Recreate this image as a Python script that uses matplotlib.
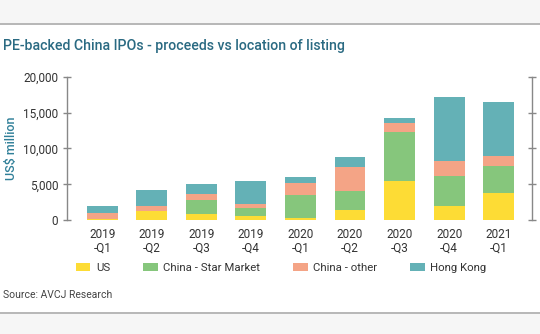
import numpy as np
import matplotlib.pyplot as plt
from matplotlib.lines import Line2D
from matplotlib.patches import Rectangle

quarters = ['2019\n-Q1', '2019\n-Q2', '2019\n-Q3', '2019\n-Q4', '2020\n-Q1',
            '2020\n-Q2', '2020\n-Q3', '2020\n-Q4', '2021\n-Q1']
us = [190, 1250, 880, 600, 330, 1440, 5400, 1950, 3720]
star = [0, 0, 1860, 1120, 3200, 2610, 6830, 4140, 3810]
other = [790, 700, 890, 510, 1590, 3300, 1260, 2100, 1400]
hk = [970, 2190, 1390, 3210, 830, 1490, 790, 8930, 7540]
series = ['US', 'China - Star Market', 'China - other', 'Hong Kong']
colors = ['#fddc35', '#86c67c', '#f4a486', '#64b1b6']

plt.rcParams['font.family'] = ['Roboto', 'DejaVu Sans']

fig = plt.figure(figsize=(5.4, 3.34), dpi=100)
ax = fig.add_axes([0.1235, 0.341, 0.8622, 0.429])

x = np.arange(len(quarters))
bottom = np.zeros(len(quarters))
handles = []
for vals, c, name in zip([us, star, other, hk], colors, series):
    b = ax.bar(x, vals, 0.625, bottom=bottom, color=c, label=name, linewidth=0)
    handles.append(b)
    bottom += np.array(vals)

ax.set_xlim(-0.72, 8.68)
ax.set_ylim(0, 20000)
ax.set_yticks([0, 5000, 10000, 15000, 20000])
ax.set_yticklabels(['0', '5,000', '10,000', '15,000', '20,000'])
ax.set_xticks(x)
ax.set_xticklabels(quarters, linespacing=1.0)
ax.tick_params(axis='x', length=0, pad=6, labelsize=8.5, colors='#333333')
ax.tick_params(axis='y', direction='inout', length=6, width=1, color='#888888',
               labelsize=8.5, labelcolor='#333333', pad=3, right=True)
for s in ['top', 'bottom']:
    ax.spines[s].set_visible(False)
for s in ['left', 'right']:
    ax.spines[s].set_color('#888888')
    ax.spines[s].set_linewidth(1)
ax.set_ylabel('US$ million', color='#2f7f98', fontsize=9, fontweight='medium')
ax.yaxis.set_label_coords(-0.105, 0.5)

fig.legend(handles=handles, labels=series, loc='center left', bbox_to_anchor=(0.141, 0.197),
           ncol=4, frameon=False, fontsize=8.2, handlelength=1.25, handleheight=0.75,
           columnspacing=2.9, handletextpad=0.5, labelcolor='#333333',
           borderpad=0, borderaxespad=0)

fig.text(0.006, 0.862, 'PE-backed China IPOs - proceeds vs location of listing',
         fontsize=10.2, fontweight='medium', color='#2a6a82', va='center')
fig.text(0.006, 0.117, 'Source: AVCJ Research', fontsize=7.5, color='#444444', va='center')

# page frame
fig.add_artist(Rectangle((0, 0.93), 1, 0.07, transform=fig.transFigure, color='#f6f6f6', lw=0))
fig.add_artist(Line2D([0, 1], [0.928, 0.928], transform=fig.transFigure, color='#aaaaaa', lw=1.2))
fig.add_artist(Rectangle((0, 0), 1, 0.06, transform=fig.transFigure, color='#f6f6f6', lw=0))
fig.add_artist(Line2D([0, 1], [0.062, 0.062], transform=fig.transFigure, color='#aaaaaa', lw=1.2))

plt.savefig('out.png', dpi=100)
